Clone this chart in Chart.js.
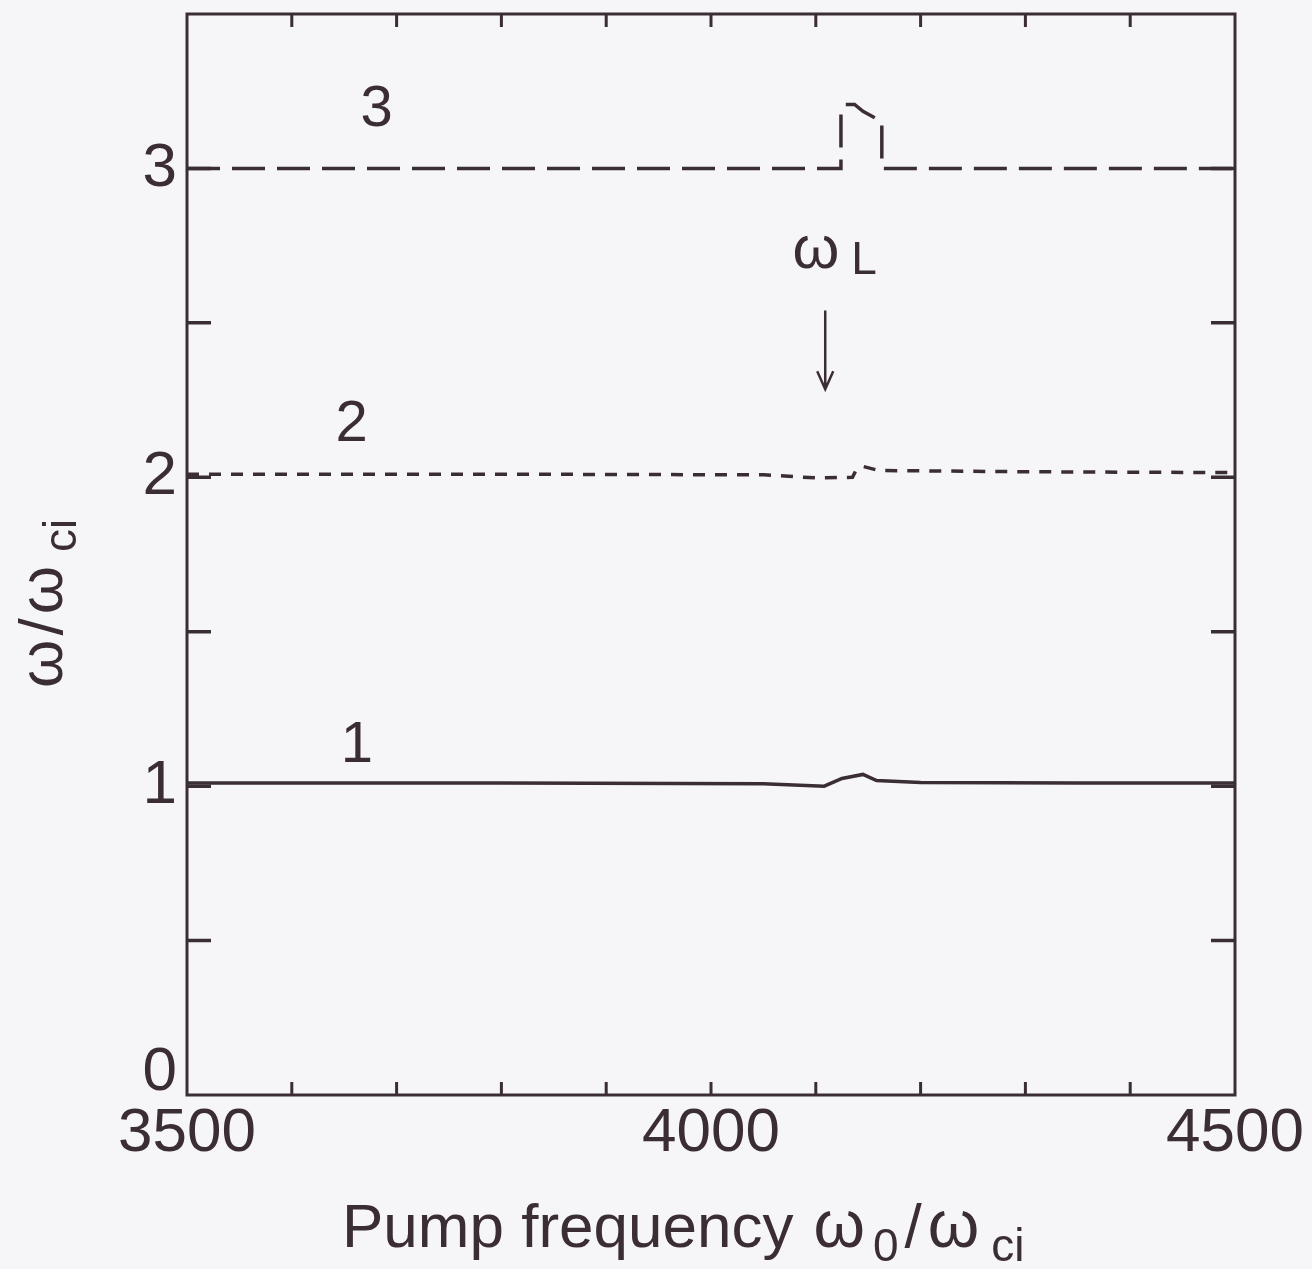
<!DOCTYPE html>
<html>
<head>
<meta charset="utf-8">
<script src="https://cdn.jsdelivr.net/npm/chart.js@4.4.0/dist/chart.umd.min.js"></script>
<style>
  html, body { margin: 0; padding: 0; background: #f6f6f8; }
  #wrap { width: 1312px; height: 1269px; }
</style>
</head>
<body>
<div id="wrap"><canvas id="chart" width="1312" height="1269"></canvas></div>
<script>
// values
const xMode1 = [3500, 3800, 4050, 4108, 4125, 4145, 4158, 4200, 4350, 4500];
const yMode1 = [1.01, 1.01, 1.008, 1.0, 1.025, 1.038, 1.018, 1.012, 1.01, 1.01];

const xMode2 = [3500, 3800, 4050, 4100, 4135, 4138, 4145, 4160, 4300, 4500];
const yMode2 = [2.01, 2.01, 2.008, 1.998, 2.0, 2.02, 2.035, 2.022, 2.018, 2.015];

const xMode3 = [3500, 4124, 4124, 4128, 4137, 4145, 4163, 4163, 4500];
const yMode3 = [3.0, 3.0, 3.19, 3.207, 3.207, 3.185, 3.152, 3.0, 3.0];

const xTickLabels = [3500, 4000, 4500];
const yTickLabels = [0, 1, 2, 3];

const ink = '#3b2d35';
const toPts = (xs, ys) => xs.map((x, i) => ({ x: x, y: ys[i] }));

// axes frame, inward ticks and all text
const framePlugin = {
  id: 'frame',
  afterDraw(chart) {
    const c = chart.ctx;
    const a = chart.chartArea;
    const xs = chart.scales.x, ys = chart.scales.y;
    c.save();
    c.strokeStyle = ink;
    c.fillStyle = ink;
    c.lineWidth = 3;
    c.strokeRect(a.left, a.top, a.right - a.left, a.bottom - a.top);

    c.lineWidth = 3;
    for (let v = 3600; v < 4500; v += 100) {
      const px = xs.getPixelForValue(v);
      c.beginPath();
      c.moveTo(px, a.bottom); c.lineTo(px, a.bottom - 13);
      c.moveTo(px, a.top); c.lineTo(px, a.top + 13);
      c.stroke();
    }
    c.lineWidth = 3.5;
    for (let v = 0.5; v < 3.5; v += 0.5) {
      const py = ys.getPixelForValue(v);
      c.beginPath();
      c.moveTo(a.left, py); c.lineTo(a.left + 24, py);
      c.moveTo(a.right, py); c.lineTo(a.right - 24, py);
      c.stroke();
    }

    c.font = '62px "Liberation Sans", Arial, sans-serif';
    c.textAlign = 'center';
    c.textBaseline = 'top';
    xTickLabels.forEach(v => c.fillText(String(v), xs.getPixelForValue(v), a.bottom + 8));

    c.textAlign = 'right';
    c.textBaseline = 'middle';
    yTickLabels.forEach(v => {
      let py = ys.getPixelForValue(v);
      if (v === 0) py -= 22;
      c.fillText(String(v), a.left - 10, py);
    });

    // curve numbers
    c.textAlign = 'center';
    c.font = '58px "Liberation Sans", Arial, sans-serif';
    c.fillText('3', xs.getPixelForValue(3681), ys.getPixelForValue(3.19));
    c.fillText('2', xs.getPixelForValue(3657), ys.getPixelForValue(2.17));
    c.fillText('1', xs.getPixelForValue(3662), ys.getPixelForValue(1.13));

    // omega_L marker
    const ax = xs.getPixelForValue(4109);
    c.font = '60px "Liberation Sans", Arial, sans-serif';
    c.fillText('ω', xs.getPixelForValue(4100), ys.getPixelForValue(2.73));
    c.font = '46px "Liberation Sans", Arial, sans-serif';
    c.fillText('L', xs.getPixelForValue(4146), ys.getPixelForValue(2.7));
    c.lineWidth = 2.5;
    const y0 = ys.getPixelForValue(2.54), y1 = ys.getPixelForValue(2.285);
    c.beginPath();
    c.moveTo(ax, y0); c.lineTo(ax, y1);
    c.moveTo(ax - 8, y1 - 18); c.lineTo(ax, y1); c.lineTo(ax + 8, y1 - 18);
    c.stroke();

    // x axis title
    c.textAlign = 'left';
    c.textBaseline = 'alphabetic';
    const big = '62px "Liberation Sans", Arial, sans-serif';
    const omega = '66px "Liberation Sans", Arial, sans-serif';
    const small = '46px "Liberation Sans", Arial, sans-serif';
    const parts = [['Pump frequency', big, 0, 20], ['ω', omega, 0, 8], ['0', small, 14, 6],
                   ['/', big, 0, 6], ['ω', omega, 0, 12], ['ci', small, 14, 0]];
    let tx = 342;
    const ty = 1247;
    parts.forEach(([t, f, dy, gap]) => {
      c.font = f;
      c.fillText(t, tx, ty + dy);
      tx += c.measureText(t).width + gap;
    });

    // y axis title
    c.translate(62, 688);
    c.rotate(-Math.PI / 2);
    let ry = 0;
    const yparts = [['ω', big, 0, 4], ['/', big, 0, 4], ['ω', big, 0, 14], ['ci', small, 14, 0]];
    yparts.forEach(([t, f, dy, gap]) => {
      c.font = f;
      c.fillText(t, ry, dy);
      ry += c.measureText(t).width + gap;
    });
    c.restore();
  }
};

new Chart(document.getElementById('chart'), {
  type: 'scatter',
  data: {
    datasets: [
      { data: toPts(xMode1, yMode1), showLine: true, borderColor: ink, borderWidth: 3.5, pointRadius: 0, tension: 0 },
      { data: toPts(xMode2, yMode2), showLine: true, borderColor: ink, borderWidth: 3.5, borderDash: [12, 10], pointRadius: 0, tension: 0 },
      { data: toPts(xMode3, yMode3), showLine: true, borderColor: ink, borderWidth: 3.5, borderDash: [33, 12], pointRadius: 0, tension: 0 }
    ]
  },
  options: {
    responsive: false,
    animation: false,
    layout: { padding: { left: 187, right: 77, top: 14, bottom: 174 } },
    plugins: { legend: { display: false }, tooltip: { enabled: false } },
    scales: {
      x: {
        type: 'linear', min: 3500, max: 4500,
        grid: { display: false, drawTicks: false },
        border: { display: false },
        ticks: { display: false }
      },
      y: {
        type: 'linear', min: 0, max: 3.5,
        grid: { display: false, drawTicks: false },
        border: { display: false },
        ticks: { display: false }
      }
    }
  },
  plugins: [framePlugin]
});
</script>
</body>
</html>
